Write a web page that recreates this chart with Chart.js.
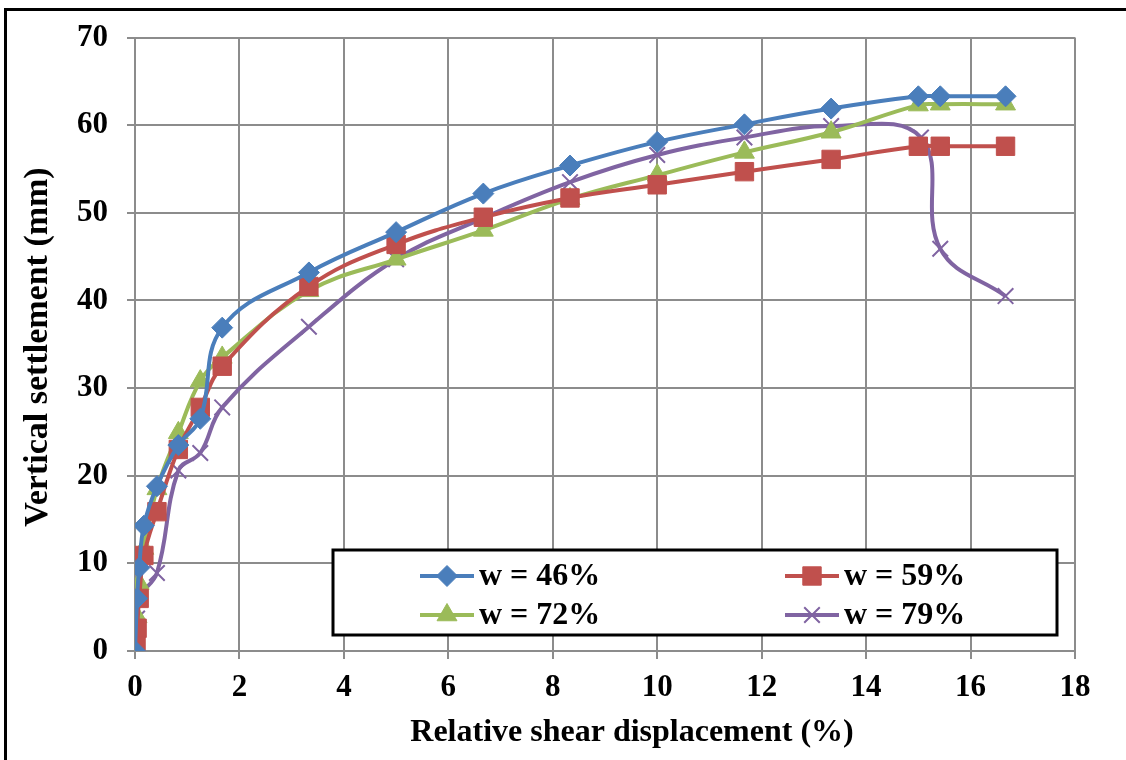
<!DOCTYPE html>
<html>
<head>
<meta charset="utf-8">
<script src="https://cdn.jsdelivr.net/npm/chart.js@4"></script>
<style>
    body { margin: 0; background: #fff; }
    #frame { position: absolute; left: 4px; top: 8px; width: 1200px; height: 800px; border: 3px solid #000; }
    #wrap { position: absolute; left: 0; top: 0; width: 1126px; height: 760px; }
</style>
</head>
<body>
<div id="frame"></div>
<div id="wrap"><canvas id="chart" width="1126" height="760"></canvas></div>
<script>
// 相対せん断変位 (%) と鉛直沈下量 (mm)
var x46 = [0, 0.04, 0.08, 0.17, 0.42, 0.83, 1.25, 1.67, 3.33, 5, 6.67, 8.33, 10, 11.67, 13.33, 15, 15.42, 16.67];
var y46 = [0, 6, 9.5, 14.3, 18.8, 23.5, 26.5, 36.9, 43.2, 47.8, 52.2, 55.4, 58.1, 60.1, 61.9, 63.3, 63.3, 63.3];

var x59 = [0, 0.02, 0.04, 0.08, 0.17, 0.42, 0.83, 1.25, 1.67, 3.33, 5, 6.67, 8.33, 10, 11.67, 13.33, 15, 15.42, 16.67];
var y59 = [0, 1.1, 2.6, 6, 10.9, 15.9, 23, 27.8, 32.5, 41.6, 46.4, 49.5, 51.7, 53.2, 54.7, 56.1, 57.6, 57.6, 57.6];

var x72 = [0, 0.04, 0.08, 0.17, 0.42, 0.83, 1.25, 1.67, 3.33, 5, 6.67, 8.33, 10, 11.67, 13.33, 15, 15.42, 16.67];
var y72 = [0, 3.9, 7.7, 11.7, 18.5, 24.9, 30.8, 33.5, 41.1, 44.7, 48, 51.6, 54.3, 56.9, 59.2, 62.3, 62.4, 62.4];

var x79 = [0, 0.02, 0.04, 0.08, 0.42, 0.83, 1.25, 1.67, 3.33, 5, 6.67, 8.33, 10, 11.67, 13.33, 15.05, 15.42, 16.67];
var y79 = [0, 0.5, 3.7, 6.1, 8.9, 20.6, 22.6, 27.8, 37, 44.7, 49.4, 53.5, 56.6, 58.6, 59.9, 58.6, 45.9, 40.5];

var seriesLabels = ['w = 46%', 'w = 59%', 'w = 72%', 'w = 79%'];
var xTicks = [0, 2, 4, 6, 8, 10, 12, 14, 16, 18];
var yTicks = [0, 10, 20, 30, 40, 50, 60, 70];
var xTitle = 'Relative shear displacement (%)';
var yTitle = 'Vertical settlement (mm)';

var FONT = '"Liberation Serif", "Times New Roman", serif';

function toPoints(xs, ys) {
    return xs.map(function(x, i) { return { x: x, y: ys[i] }; });
}

function makeSet(label, xs, ys, color, style, radius, bw) {
    return {
        label: label,
        data: toPoints(xs, ys),
        borderColor: color,
        backgroundColor: color,
        borderWidth: 4,
        pointStyle: style,
        pointRadius: radius,
        pointBorderWidth: bw,
        pointBackgroundColor: color,
        pointBorderColor: color,
        tension: 0.4
    };
}

var datasets = [
    makeSet(seriesLabels[0], x46, y46, '#4A7EBB', 'rectRot', 10.5, 1),
    makeSet(seriesLabels[1], x59, y59, '#C0504D', 'rect', 13, 1),
    makeSet(seriesLabels[2], x72, y72, '#9BBB59', 'triangle', 11.5, 1),
    makeSet(seriesLabels[3], x79, y79, '#8064A2', 'crossRot', 11, 2)
];

// 凡例はプロットエリア内に描く
var boxLegend = {
    id: 'boxLegend',
    afterDraw: function(chart) {
        var ctx = chart.ctx;
        ctx.save();
        ctx.fillStyle = '#fff';
        ctx.fillRect(333, 550, 724, 85);
        ctx.strokeStyle = '#000';
        ctx.lineWidth = 3;
        ctx.strokeRect(333, 550, 724, 85);
        var cols = [447, 812];
        var rows = [576, 615];
        chart.data.datasets.forEach(function(ds, i) {
            var cx = cols[i % 2];
            var cy = rows[Math.floor(i / 2)];
            ctx.strokeStyle = ds.borderColor;
            ctx.lineWidth = 4;
            ctx.beginPath();
            ctx.moveTo(cx - 27, cy);
            ctx.lineTo(cx + 27, cy);
            ctx.stroke();
            ctx.fillStyle = ds.borderColor;
            ctx.lineWidth = ds.pointBorderWidth;
            Chart.helpers.drawPoint(ctx, {
                pointStyle: ds.pointStyle,
                radius: ds.pointRadius,
                borderWidth: ds.pointBorderWidth,
                rotation: 0
            }, cx, cy);
            ctx.fillStyle = '#000';
            ctx.font = 'bold 32px ' + FONT;
            ctx.textBaseline = 'middle';
            ctx.textAlign = 'left';
            ctx.fillText(ds.label, cx + 32, cy + 1);
        });

        // 軸タイトル
        ctx.fillStyle = '#000';
        ctx.textAlign = 'center';
        ctx.textBaseline = 'middle';
        ctx.font = 'bold 32px ' + FONT;
        ctx.fillText(xTitle, 632, 733);
        ctx.translate(38, 347);
        ctx.rotate(-Math.PI / 2);
        ctx.font = 'bold 34px ' + FONT;
        ctx.fillText(yTitle, 0, 0);
        ctx.restore();
    }
};

var ctx = document.getElementById('chart').getContext('2d');
var chart = new Chart(ctx, {
    type: 'line',
    data: { datasets: datasets },
    options: {
        responsive: false,
        animation: false,
        layout: { padding: { left: 0, top: 35, right: 51, bottom: 0 } },
        plugins: {
            legend: { display: false },
            tooltip: { enabled: false }
        },
        scales: {
            x: {
                type: 'linear',
                min: 0,
                max: 18,
                afterBuildTicks: function(axis) {
                    axis.ticks = xTicks.map(function(v) { return { value: v }; });
                },
                afterFit: function(axis) { axis.height = 109; },
                grid: { color: '#8C8C8C', lineWidth: 2, tickLength: 8 },
                border: { color: '#8C8C8C', width: 2 },
                ticks: {
                    color: '#000',
                    padding: 10,
                    maxRotation: 0,
                    font: { family: FONT, size: 31, weight: 'bold' }
                }
            },
            y: {
                type: 'linear',
                min: 0,
                max: 70,
                afterBuildTicks: function(axis) {
                    axis.ticks = yTicks.map(function(v) { return { value: v }; });
                },
                afterFit: function(axis) { axis.width = 135; },
                grid: { color: '#8C8C8C', lineWidth: 2, tickLength: 8 },
                border: { color: '#8C8C8C', width: 2 },
                ticks: {
                    color: '#000',
                    padding: 19,
                    font: { family: FONT, size: 31, weight: 'bold' }
                }
            }
        }
    },
    plugins: [boxLegend]
});
</script>
</body>
</html>
